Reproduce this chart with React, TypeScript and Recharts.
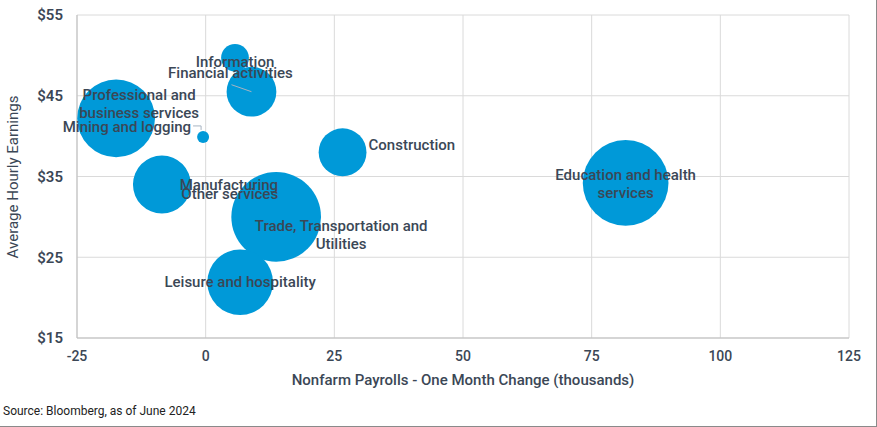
import React from 'react';
import { ScatterChart, Scatter, XAxis, YAxis, ZAxis, CartesianGrid } from 'recharts';

// sectors drawn in this order (Other services sits under the Trade bubble)
const sectors = [
  'Other services',
  'Information',
  'Financial activities',
  'Professional and business services',
  'Mining and logging',
  'Construction',
  'Manufacturing',
  'Trade, Transportation and Utilities',
  'Leisure and hospitality',
  'Education and health services',
];
// one month change in nonfarm payrolls (thousands)
const payrollChange = [14, 5.7, 8.9, -17.4, -0.5, 26.6, -8.5, 13.7, 6.7, 81.6];
// average hourly earnings ($)
const hourlyEarnings = [31, 49.7, 45.5, 42.2, 39.9, 38.0, 34.0, 30.0, 21.9, 34.2];
// employment (millions) -> bubble area
const employment = [5.9, 2.9, 9.3, 22.7, 0.54, 8.6, 12.6, 30.2, 16.2, 27.6];

const xTicks = [-25, 0, 25, 50, 75, 100, 125];
const yTicks = [15, 25, 35, 45, 55];

const data = sectors.map((name, i) => ({
  name,
  x: payrollChange[i],
  y: hourlyEarnings[i],
  z: employment[i],
}));

const BLUE = '#0099d8';
const TEXT = '#3b4756';
const FONT = 'Roboto, "Noto Sans", sans-serif';

// label placement relative to each bubble centre (pixels)
const labelLayout: Record<string, { lines: string[]; dx: number; dy: number[]; anchor: 'start' | 'middle' | 'end'; leader?: number[][] }> = {
  'Other services': { lines: ['Other services'], dx: -48, dy: [-15], anchor: 'middle' },
  'Information': { lines: ['Information'], dx: 0, dy: [4], anchor: 'middle' },
  'Financial activities': { lines: ['Financial activities'], dx: -21, dy: [-19], anchor: 'middle', leader: [[-20, -7], [0, 0]] },
  'Professional and business services': { lines: ['Professional and', 'business services'], dx: 23, dy: [-23, -5], anchor: 'middle' },
  'Mining and logging': { lines: ['Mining and logging'], dx: -12, dy: [-10], anchor: 'end', leader: [[-10, -11], [-2, -11], [-2, -7]] },
  'Construction': { lines: ['Construction'], dx: 26, dy: [-7], anchor: 'start' },
  'Manufacturing': { lines: ['Manufacturing'], dx: 67, dy: [0], anchor: 'middle' },
  'Trade, Transportation and Utilities': { lines: ['Trade, Transportation and', 'Utilities'], dx: 65, dy: [9, 27], anchor: 'middle' },
  'Leisure and hospitality': { lines: ['Leisure and hospitality'], dx: 0, dy: [0], anchor: 'middle' },
  'Education and health services': { lines: ['Education and health', 'services'], dx: 0, dy: [-8, 10], anchor: 'middle' },
};

const LabelShape = (props: any) => {
  const { cx, cy, payload } = props;
  const l = labelLayout[payload?.name];
  if (!l || typeof cx !== 'number') return <g />;
  return (
    <g>
      {l.leader && (
        <polyline
          points={l.leader.map(p => `${cx + p[0]},${cy + p[1]}`).join(' ')}
          fill="none"
          stroke="#a7b4c2"
          strokeWidth={1}
        />
      )}
      {l.lines.map((t, i) => (
        <text
          key={i}
          x={cx + l.dx}
          y={cy + l.dy[i]}
          textAnchor={l.anchor}
          dominantBaseline="central"
          fill={TEXT}
          fontSize={15}
          fontWeight={500}
          fontFamily={FONT}
        >
          {t}
        </text>
      ))}
    </g>
  );
};

export default function App() {
  return (
    <div style={{ position: 'absolute', left: 0, top: 0, width: 877, height: 427, background: '#fff', fontFamily: FONT, boxSizing: 'border-box', borderRight: '1px solid #8a8a8a', borderBottom: '1px solid #8a8a8a' }}>
      <ScatterChart width={877} height={427} margin={{ top: 15, right: 28, bottom: 0, left: 0 }}>
        <CartesianGrid stroke="#dadada" strokeWidth={1} />
        <XAxis
          type="number"
          dataKey="x"
          domain={[-25, 125]}
          ticks={xTicks}
          height={89}
          tickLine={false}
          tickSize={0}
          tickMargin={13}
          axisLine={{ stroke: '#bdbdbd' }}
          tick={{ fill: TEXT, fontSize: 14, fontWeight: 500, fontFamily: FONT }}
        />
        <YAxis
          type="number"
          dataKey="y"
          domain={[15, 55]}
          ticks={yTicks}
          width={77}
          tickLine={false}
          tickSize={0}
          tickMargin={14}
          axisLine={{ stroke: '#bdbdbd' }}
          tickFormatter={(v: number) => `$${v}`}
          tick={{ fill: TEXT, fontSize: 15, fontWeight: 600, fontFamily: FONT }}
        />
        <ZAxis type="number" dataKey="z" domain={[0, 30]} range={[0, 6315]} />
        <Scatter data={data} fill={BLUE} shape="circle" isAnimationActive={false} />
        <Scatter data={data} shape={LabelShape} isAnimationActive={false} />
      </ScatterChart>

      <div style={{ position: 'absolute', left: 13, top: 177, transform: 'translate(-50%, -50%) rotate(-90deg)', whiteSpace: 'nowrap', fontSize: 15, color: TEXT, fontWeight: 400 }}>
        Average Hourly Earnings
      </div>
      <div style={{ position: 'absolute', left: 463, top: 380, transform: 'translate(-50%, -50%)', whiteSpace: 'nowrap', fontSize: 15, color: TEXT, fontWeight: 500 }}>
        Nonfarm Payrolls - One Month Change (thousands)
      </div>
      <div style={{ position: 'absolute', left: 3, top: 411, transform: 'translateY(-50%)', whiteSpace: 'nowrap', fontSize: 12, color: '#222' }}>
        Source: Bloomberg, as of June 2024
      </div>
    </div>
  );
}
